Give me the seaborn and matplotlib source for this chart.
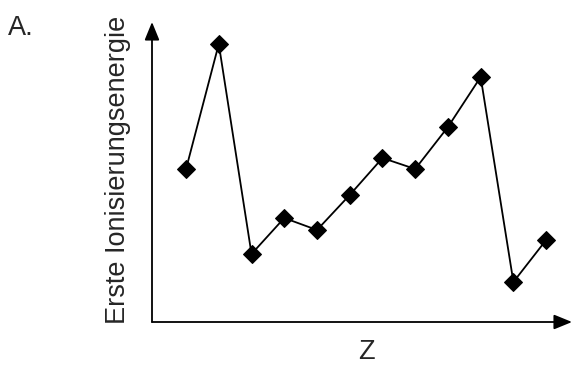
import numpy as np
import pandas as pd
import matplotlib
matplotlib.use("Agg")
import matplotlib.pyplot as plt
import seaborn as sns

# data (relative units)
z = [1, 2, 3, 4, 5, 6, 7, 8, 9, 10, 11, 12]
energie = [153, 278, 68, 104, 92, 127, 164, 153, 195, 245, 40, 82]

df = pd.DataFrame({"Z": z, "E": energie})

sns.set_style("white")
plt.rcParams["font.family"] = ["Liberation Sans", "DejaVu Sans"]

fig = plt.figure(figsize=(5.75, 3.68), dpi=100)
ax = fig.add_axes([152/575, 46/368, 420/575, 300/368])

sns.lineplot(data=df, x="Z", y="E", ax=ax, color="black", linewidth=1.3,
             marker="D", markersize=9, markeredgecolor="black")

ax.set_xlim(-0.04, 12.79)
ax.set_ylim(0, 300)
ax.set_xticks([])
ax.set_yticks([])
for s in ax.spines.values():
    s.set_visible(False)
ax.set_xlabel("")
ax.set_ylabel("")

# axis arrows
arrow = dict(arrowstyle="-|>,head_length=1.1,head_width=0.45", color="black", lw=1.3,
             shrinkA=0, shrinkB=0)
ax.annotate("", xy=(1.0, 0), xytext=(0, 0), xycoords="axes fraction", arrowprops=arrow)
ax.annotate("", xy=(0, 1.0), xytext=(0, 0), xycoords="axes fraction", arrowprops=arrow)

fig.text(118/575, 1 - 170/368, "Erste Ionisierungsenergie", rotation=90,
         ha="center", va="center", fontsize=19.5)
fig.text(366/575, 1 - 352/368, "Z", ha="center", va="center", fontsize=19.5)
fig.text(8/575, 1 - 28/368, "A.", ha="left", va="center", fontsize=19.5)

fig.savefig("out.png", dpi=100)
